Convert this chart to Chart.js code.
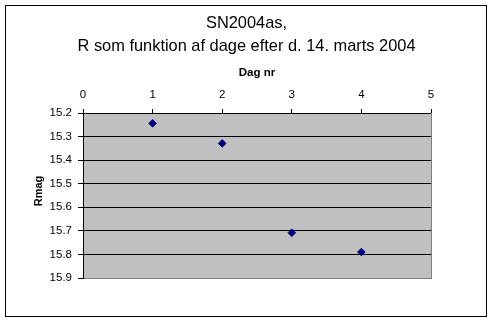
<!DOCTYPE html>
<html>
<head>
<meta charset="utf-8">
<script src="https://cdn.jsdelivr.net/npm/chart.js@4.4.1/dist/chart.umd.min.js"></script>
<style>
html,body{margin:0;padding:0;background:#fff;}
#wrap{width:493px;height:322px;position:relative;}
</style>
</head>
<body>
<div id="wrap"><canvas id="c" width="493" height="322"></canvas></div>
<script>
const days = [1, 2, 3, 4];
const rmag = [15.244, 15.329, 15.708, 15.79];
const xTicks = [0, 1, 2, 3, 4, 5];
const yTicks = [15.2, 15.3, 15.4, 15.5, 15.6, 15.7, 15.8, 15.9];
const titleLines = ['SN2004as,', 'R som funktion af dage efter d. 14. marts 2004'];
const xTitle = 'Dag nr';
const yTitle = 'Rmag';

const FONT = "'Liberation Sans', Arial, sans-serif";

const frame = {
  id: 'frame',
  beforeDraw(chart) {
    const {ctx, chartArea: a} = chart;
    ctx.save();
    ctx.fillStyle = '#fff';
    ctx.fillRect(0, 0, chart.width, chart.height);
    ctx.fillStyle = '#C0C0C0';
    ctx.fillRect(a.left, a.top, a.right - a.left, a.bottom - a.top);
    ctx.restore();
  },
  afterDraw(chart) {
    const {ctx, chartArea: a} = chart;
    ctx.save();
    ctx.strokeStyle = '#808080';
    ctx.lineWidth = 1;
    ctx.beginPath();
    ctx.moveTo(Math.round(a.right) + 0.5, a.top);
    ctx.lineTo(Math.round(a.right) + 0.5, Math.round(a.bottom) + 1);
    ctx.stroke();
    ctx.strokeStyle = '#000';
    ctx.strokeRect(5.5, 5.5, 481, 311);

    // titles
    ctx.fillStyle = '#000';
    ctx.textAlign = 'center';
    ctx.textBaseline = 'middle';
    ctx.font = '16.4px ' + FONT;
    ctx.fillText(titleLines[0], chart.width / 2, 23);
    ctx.fillText(titleLines[1], chart.width / 2, 46);
    ctx.font = 'bold 11.5px ' + FONT;
    ctx.fillText(xTitle, (a.left + a.right) / 2, 73);
    ctx.save();
    ctx.translate(38.5, 191);
    ctx.rotate(-Math.PI / 2);
    ctx.font = 'bold 11px ' + FONT;
    ctx.fillText(yTitle, 0, 0);
    ctx.restore();
    ctx.restore();
  }
};

new Chart(document.getElementById('c'), {
  type: 'scatter',
  data: {
    datasets: [{
      data: days.map((d, i) => ({x: d, y: rmag[i]})),
      pointStyle: 'rectRot',
      pointRadius: 3.8,
      pointHoverRadius: 3.8,
      backgroundColor: '#000080',
      borderColor: '#000080',
      borderWidth: 1
    }]
  },
  options: {
    responsive: false,
    animation: false,
    events: [],
    layout: {padding: {left: 0, top: 83, right: 62, bottom: 44}},
    plugins: {
      legend: {display: false},
      tooltip: {enabled: false},
      title: {display: false}
    },
    scales: {
      x: {
        type: 'linear',
        position: 'top',
        min: 0, max: 5,
        afterBuildTicks: s => { s.ticks = xTicks.map(v => ({value: v})); },
        afterFit: s => { s.height = 30; },
        ticks: {color: '#000', font: {family: FONT, size: 11.5, lineHeight: 1.2}, padding: 7, maxRotation: 0},
        grid: {drawOnChartArea: false, drawTicks: true, tickLength: 4, tickColor: '#000'},
        border: {display: true, color: '#000', width: 1},
        title: {display: false}
      },
      y: {
        type: 'linear',
        position: 'left',
        reverse: true,
        min: 15.2, max: 15.9,
        afterBuildTicks: s => { s.ticks = yTicks.map(v => ({value: v})); },
        afterFit: s => { s.width = 83; },
        ticks: {color: '#000', font: {family: FONT, size: 11.5}, padding: 6, callback: v => Number(v).toFixed(1)},
        grid: {
          drawOnChartArea: true, drawTicks: true, tickLength: 5, tickColor: '#000', lineWidth: 1,
          color: c => (c.tick && Math.abs(c.tick.value - 15.9) < 1e-6) ? '#808080' : '#000'
        },
        border: {display: true, color: '#000', width: 1},
        title: {display: false}
      }
    }
  },
  plugins: [frame]
});
</script>
</body>
</html>
